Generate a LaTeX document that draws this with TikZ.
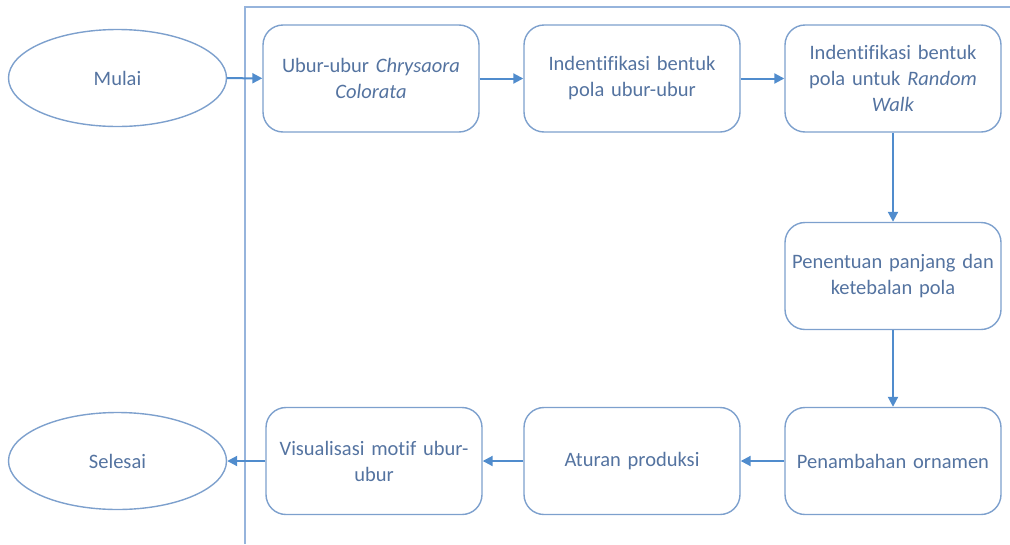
\documentclass[tikz,border=0pt]{standalone}
\usepackage{fontspec}
\setmainfont[Ligatures=NoCommon]{Carlito}
\usetikzlibrary{arrows.meta,shapes.geometric}
\definecolor{txt}{RGB}{84,115,160}
\definecolor{bord}{RGB}{125,160,205}
\definecolor{arr}{RGB}{80,140,205}
\definecolor{frm}{RGB}{150,180,220}
\begin{document}
\begin{tikzpicture}[x=1pt,y=-1pt,
  font=\fontsize{20.5}{26}\selectfont,
  procbox/.style={draw=bord, line width=1.4pt, rounded corners=20pt, minimum width=216pt, minimum height=107pt, text width=210pt, align=center, text=txt, inner sep=0pt},
  term/.style={draw=bord, line width=1.4pt, ellipse, minimum width=218pt, minimum height=97pt, inner sep=0pt, text=txt},
  flow/.style={draw=arr, line width=2pt, -{Triangle[width=10pt,length=10pt]}},
  frame/.style={draw=frm, line width=1.3pt}]
\useasboundingbox (0,0) rectangle (1010,544);
\draw[frame] (245,544) -- (245,7) -- (1010,7);
\node[term] (mulai) at (117.5,78) {Mulai};
\node[term] (selesai) at (117.5,461) {Selesai};
\node[procbox] (b1) at (371,78.5) {Ubur-ubur \textit{Chrysaora}\\\textit{Colorata}};
\node[procbox] (b2) at (632,78.5) {Indentifikasi bentuk\\pola ubur-ubur};
\node[procbox] (b3) at (893,78.5) {Indentifikasi bentuk\\pola untuk \textit{Random}\\\textit{Walk}};
\node[procbox] (b4) at (893,276) {Penentuan panjang dan\\ketebalan pola};
\node[procbox] (b5) at (893,461) {Penambahan ornamen};
\node[procbox] (b6) at (632,461) {Aturan produksi};
\node[procbox] (b7) at (374,461) {Visualisasi motif ubur-\\ubur};
\draw[flow] (mulai) -- (b1);
\draw[flow] (b1) -- (b2);
\draw[flow] (b2) -- (b3);
\draw[flow] (b3) -- (b4);
\draw[flow] (b4) -- (b5);
\draw[flow] (b5) -- (b6);
\draw[flow] (b6) -- (b7);
\draw[flow] (b7) -- (selesai);
\end{tikzpicture}
\end{document}
